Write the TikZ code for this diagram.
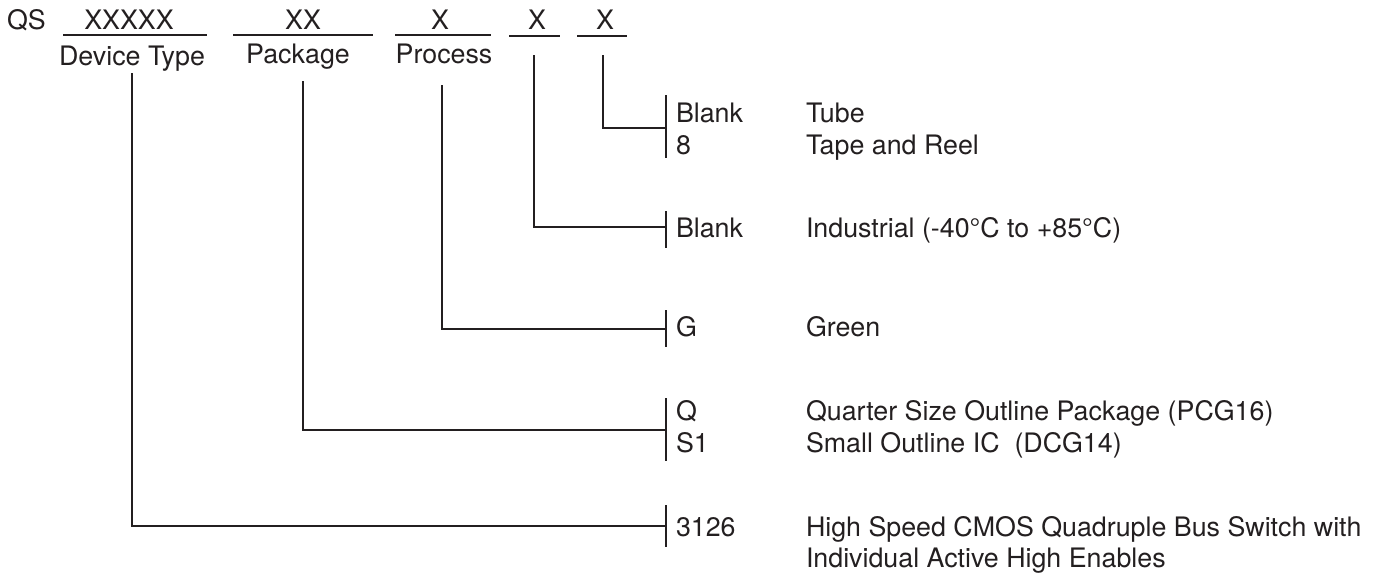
\documentclass[tikz,border=0pt]{standalone}
\usepackage{fontspec}
\setmainfont{TeX Gyre Heros}
\definecolor{ink}{RGB}{35,31,32}
\begin{document}
\begin{tikzpicture}[x=1pt,y=-1pt,
  txt/.style={inner sep=0pt,outer sep=0pt,text=ink,font=\fontsize{26.8}{31}\selectfont},
  lft/.style={txt,anchor=base west},
  ctr/.style={txt,anchor=base},
  ln/.style={draw=ink,line width=2pt},
  tick/.style={draw=ink,line width=2pt}]
\useasboundingbox (0,0) rectangle (1378,576);
% top row
\node[lft] (qs) at (7,29) {QS};
\node[ctr] (f1) at (129,29) {XXXXX};
\node[ctr] (f2) at (303,29) {XX};
\node[ctr] (f3) at (440,29) {X};
\node[ctr] (f4) at (537,29) {X};
\node[ctr] (f5) at (605,29) {X};
% underlines
\coordinate (u1a) at (63,34.5);  \coordinate (u1b) at (207,34.5);
\coordinate (u2a) at (233,34.5); \coordinate (u2b) at (373,34.5);
\coordinate (u3a) at (395,34.5); \coordinate (u3b) at (491,34.5);
\coordinate (u4a) at (509,35.5); \coordinate (u4b) at (560,35.5);
\coordinate (u5a) at (577,35.5); \coordinate (u5b) at (627,35.5);
\draw[ln] (u1a) -- (u1b);
\draw[ln] (u2a) -- (u2b);
\draw[ln] (u3a) -- (u3b);
\draw[ln] (u4a) -- (u4b);
\draw[ln] (u5a) -- (u5b);
% field labels
\node[ctr] (l1) at (132,65) {Device Type};
\node[ctr] (l2) at (298,63) {Package};
\node[ctr] (l3) at (444,63) {Process};
% line starts
\coordinate (s1) at (132,73);
\coordinate (s2) at (303,81);
\coordinate (s3) at (442,85);
\coordinate (s4) at (534,55);
\coordinate (s5) at (603,55);
% ticks
\coordinate (t5a) at (666,95);  \coordinate (t5b) at (666,158); \coordinate (t5) at (666,128);
\coordinate (t4a) at (666,211); \coordinate (t4b) at (666,248); \coordinate (t4) at (666,227);
\coordinate (t3a) at (666,310); \coordinate (t3b) at (666,347); \coordinate (t3) at (666,329);
\coordinate (t2a) at (666,398); \coordinate (t2b) at (666,461); \coordinate (t2) at (666,430);
\coordinate (t1a) at (666,505); \coordinate (t1b) at (666,547); \coordinate (t1) at (666,526);
\draw[tick] (t5a) -- (t5b);
\draw[tick] (t4a) -- (t4b);
\draw[tick] (t3a) -- (t3b);
\draw[tick] (t2a) -- (t2b);
\draw[tick] (t1a) -- (t1b);
% connectors
\draw[ln] (s5) |- (t5);
\draw[ln] (s4) |- (t4);
\draw[ln] (s3) |- (t3);
\draw[ln] (s2) |- (t2);
\draw[ln] (s1) |- (t1);
% codes
\node[lft] (c5a) at (676,122) {Blank};
\node[lft] (c5b) at (676,154) {8};
\node[lft] (c4) at (676,237) {Blank};
\node[lft] (c3) at (676,336) {G};
\node[lft] (c2a) at (676,420) {Q};
\node[lft] (c2b) at (676,452) {S1};
\node[lft] (c1) at (676,536) {3126};
% descriptions
\node[lft] (d5a) at (806,122) {Tube};
\node[lft] (d5b) at (806,154) {Tape and Reel};
\node[lft] (d4) at (806,237) {Industrial (-40°C to +85°C)};
\node[lft] (d3) at (806,336) {Green};
\node[lft] (d2a) at (806,420) {Quarter Size Outline Package (PCG16)};
\node[lft] (d2b) at (806,452) {Small Outline IC\ \ (DCG14)};
\node[lft] (d1a) at (806,536) {High Speed CMOS Quadruple Bus Switch with};
\node[lft] (d1b) at (806,567) {Individual Active High Enables};
\end{tikzpicture}
\end{document}
